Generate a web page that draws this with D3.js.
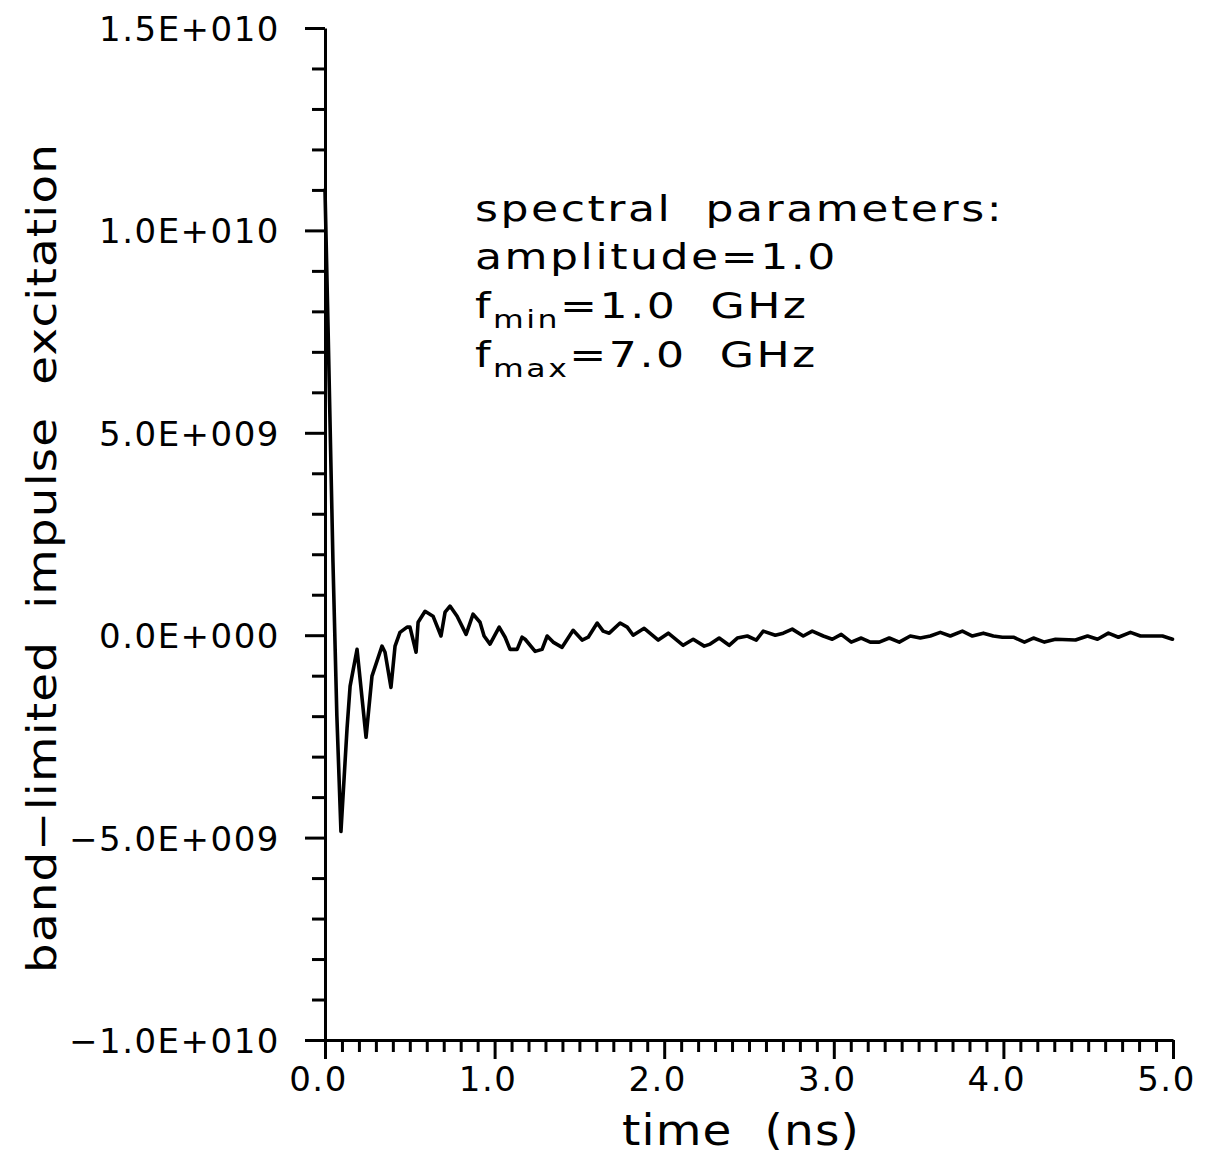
<!DOCTYPE html>
<html><head><meta charset="utf-8">
<script src="https://cdn.jsdelivr.net/npm/d3@7"></script>
<style>
body{margin:0;background:#fff}
svg{display:block}
text{font-family:"DejaVu Sans",sans-serif;fill:#000;white-space:pre}
</style>
</head><body>
<svg id="c" width="1208" height="1160"></svg>
<script>
// ---- data ----
const timeNs = [0, 0.018, 0.047, 0.07, 0.094, 0.13, 0.148, 0.189, 0.242, 0.277, 0.336, 0.354, 0.389, 0.413, 0.442, 0.484, 0.501, 0.537, 0.549, 0.590, 0.637, 0.684, 0.708, 0.737, 0.779, 0.832, 0.873, 0.914, 0.938, 0.973, 1.027, 1.062, 1.091, 1.133, 1.162, 1.180, 1.239, 1.280, 1.310, 1.345, 1.398, 1.463, 1.516, 1.552, 1.605, 1.640, 1.676, 1.740, 1.782, 1.817, 1.882, 1.965, 2.024, 2.112, 2.171, 2.236, 2.271, 2.324, 2.383, 2.431, 2.490, 2.543, 2.584, 2.655, 2.702, 2.755, 2.820, 2.873, 2.938, 2.991, 3.044, 3.103, 3.162, 3.215, 3.268, 3.327, 3.386, 3.451, 3.510, 3.569, 3.628, 3.687, 3.758, 3.817, 3.882, 3.941, 3.994, 4.059, 4.124, 4.177, 4.242, 4.307, 4.425, 4.496, 4.555, 4.619, 4.678, 4.749, 4.808, 4.938, 4.997];
const excitationE9 = [11.0, 7.6, 1.8, -2.0, -4.85, -2.3, -1.26, -0.35, -2.52, -1.01, -0.27, -0.42, -1.29, -0.27, 0.07, 0.2, 0.2, -0.42, 0.32, 0.59, 0.47, -0.02, 0.57, 0.72, 0.47, 0.02, 0.52, 0.32, -0.02, -0.22, 0.2, -0.05, -0.35, -0.35, -0.05, -0.1, -0.4, -0.35, -0.02, -0.17, -0.3, 0.12, -0.12, -0.05, 0.3, 0.1, 0.05, 0.3, 0.2, 0.0, 0.17, -0.12, 0.05, -0.25, -0.1, -0.27, -0.22, -0.07, -0.25, -0.07, -0.02, -0.12, 0.1, 0.0, 0.05, 0.15, -0.02, 0.1, -0.02, -0.1, 0.02, -0.17, -0.07, -0.17, -0.17, -0.07, -0.17, -0.02, -0.07, -0.02, 0.07, -0.02, 0.1, -0.02, 0.05, -0.02, -0.05, -0.05, -0.17, -0.07, -0.17, -0.1, -0.12, -0.02, -0.1, 0.05, -0.05, 0.07, -0.02, -0.02, -0.1];
const xTickValues = [0, 1, 2, 3, 4, 5];
const xTickLabels = ["0.0", "1.0", "2.0", "3.0", "4.0", "5.0"];
const yTickValues = [-1e10, -5e9, 0, 5e9, 1e10, 1.5e10];
const yTickLabels = ["\u22121.0E+010", "\u22125.0E+009", "0.0E+000", "5.0E+009", "1.0E+010", "1.5E+010"];
const xLabel = "time  (ns)";
const yLabel = "band\u2212limited  impulse  excitation";
const annotationLines = [
  [{t: "spectral  parameters:"}],
  [{t: "amplitude=1.0"}],
  [{t: "f"}, {t: "min", sub: true}, {t: "=1.0  GHz"}],
  [{t: "f"}, {t: "max", sub: true}, {t: "=7.0  GHz"}]
];

// ---- drawing ----
const svg = d3.select("#c");
svg.append("rect").attr("width", 1208).attr("height", 1160).attr("fill", "#fff");
const x = d3.scaleLinear().domain([0, 5]).range([325, 1173]);
const y = d3.scaleLinear().domain([-1e10, 1.5e10]).range([1040, 28]);
const SW = 3;

// y minor ticks
const yMinor = d3.range(-10, 16).map(k => k * 1e9).filter(v => !yTickValues.includes(v));
const gyMin = svg.append("g").attr("transform", `translate(${x(0)},0)`)
  .call(d3.axisLeft(y).tickValues(yMinor).tickSize(13).tickSizeOuter(0).tickFormat(""));
gyMin.select(".domain").remove();
const gy = svg.append("g").attr("transform", `translate(${x(0)},0)`)
  .call(d3.axisLeft(y).tickValues(yTickValues).tickSize(20).tickSizeOuter(0).tickPadding(25)
    .tickFormat((d, i) => yTickLabels[i]));
// x minor ticks
const xMinor = d3.range(0, 51).map(k => k / 10).filter(v => !xTickValues.some(m => Math.abs(m - v) < 1e-9));
const gxMin = svg.append("g").attr("transform", `translate(0,${y(-1e10)})`)
  .call(d3.axisBottom(x).tickValues(xMinor).tickSize(12).tickSizeOuter(0).tickFormat(""));
gxMin.select(".domain").remove();
const gx = svg.append("g").attr("transform", `translate(0,${y(-1e10)})`)
  .call(d3.axisBottom(x).tickValues(xTickValues).tickSize(19).tickSizeOuter(0)
    .tickFormat((d, i) => xTickLabels[i]));

svg.selectAll(".domain").attr("stroke", "#000").attr("stroke-width", SW);
svg.selectAll(".tick line").attr("stroke", "#000").attr("stroke-width", SW);
svg.selectAll("g").attr("font-family", null).attr("font-size", null);
gy.selectAll("text").attr("font-size", 34).attr("letter-spacing", 1.5).attr("dy", "0.37em");
gx.selectAll("text").attr("font-size", 34).attr("letter-spacing", 1.5)
  .attr("y", 51).attr("dy", 0).attr("dx", -7);

// curve
const data = timeNs.map((t, i) => [t, excitationE9[i] * 1e9]);
svg.append("path").datum(data)
  .attr("fill", "none").attr("stroke", "#000").attr("stroke-width", 3.6)
  .attr("stroke-linejoin", "round").attr("stroke-linecap", "round")
  .attr("d", d3.line().x(d => x(d[0])).y(d => y(d[1])));

// stretch text horizontally (in its own frame) to a target width
function stretch(sel, tx, ty, rot, target, ls) {
  sel.attr("x", 0).attr("y", 0).attr("letter-spacing", ls);
  const len = sel.node().getComputedTextLength();
  const sx = target / len;
  sel.attr("transform", `translate(${tx},${ty}) rotate(${rot}) scale(${sx},1)`);
  return sx;
}

// axis titles
const yl = svg.append("text").attr("font-size", 40).attr("text-anchor", "middle").text(yLabel);
stretch(yl, 56, 558, -90, 830, 1);

const xl = svg.append("text").attr("font-size", 42).text(xLabel);
stretch(xl, 622, 1145, 0, 238, 1);

// annotation
const annY = [221, 269, 318, 367];
const annTexts = annotationLines.map((segs, li) => {
  const tx = svg.append("text").attr("font-size", 35);
  segs.forEach((sg, si) => {
    const ts = tx.append("tspan").text(sg.t);
    if (sg.sub) ts.attr("font-size", 25).attr("dy", 10);
    else if (si > 0) ts.attr("dy", -10);
  });
  return tx;
});
const annSx = stretch(annTexts[1], 475, annY[1], 0, 363, 2);
annTexts.forEach((tx, li) => {
  tx.attr("x", 0).attr("y", 0).attr("letter-spacing", 2)
    .attr("transform", `translate(475,${annY[li]}) scale(${annSx},1)`);
});
</script>
</body></html>
